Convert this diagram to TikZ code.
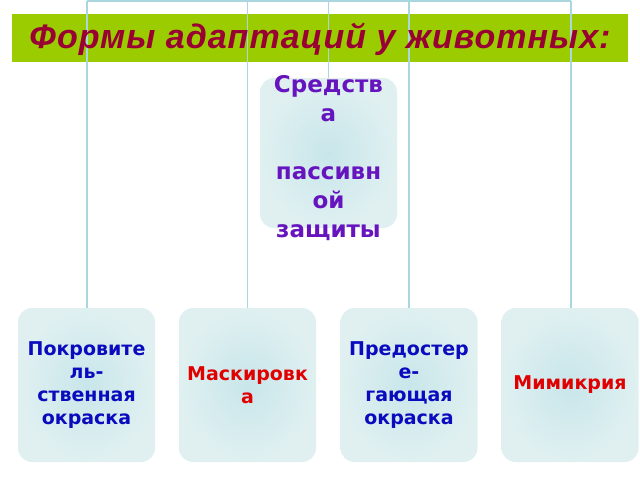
\documentclass[tikz,border=0pt]{standalone}
\usepackage{fontspec}
\setmainfont{DejaVu Sans}
\newfontfamily\titlefont[LetterSpace=3]{Liberation Sans}
\definecolor{barGreen}{RGB}{154,204,0}
\definecolor{titleRed}{RGB}{153,0,51}
\definecolor{lineBlue}{RGB}{170,214,224}
\definecolor{boxIn}{RGB}{200,230,234}
\definecolor{boxOut}{RGB}{224,240,241}
\definecolor{rootPurple}{RGB}{102,20,190}
\definecolor{txtBlue}{RGB}{10,10,190}
\definecolor{txtRed}{RGB}{225,0,0}
\tikzset{
  titlebar/.style={fill=barGreen, minimum width=616pt, minimum height=48pt, inner sep=0pt},
  boxshape/.style={rounded corners=14pt, inner color=boxIn, outer color=boxOut, minimum width=137pt, inner sep=0pt},
  conn/.style={draw=lineBlue, line width=1.6pt},
  roottext/.style={align=center, text=rootPurple, font=\fontsize{23}{29}\selectfont\bfseries},
  leaftext/.style={align=center, font=\fontsize{19}{23}\selectfont\bfseries},
}
\begin{document}
\begin{tikzpicture}[x=1pt,y=-1pt]
\useasboundingbox (0,0) rectangle (640,480);
\fill[white] (0,0) rectangle (640,480);
\node[titlebar] (title) at (320,37.5) {};
% boxes
\node[boxshape, minimum height=150pt] (root) at (328.5,153) {};
\node[boxshape, minimum height=154pt] (b1) at (86.5,385) {};
\node[boxshape, minimum height=154pt] (b2) at (247.5,385) {};
\node[boxshape, minimum height=154pt] (b3) at (409,385) {};
\node[boxshape, minimum height=154pt] (b4) at (570,385) {};
% connectors
\coordinate (top1) at (87,1);
\coordinate (top4) at (571,1);
\draw[conn] (top1) -- (top4);
\draw[conn] (top1) -- (b1.north -| top1);
\draw[conn] (b2.north |- top1) -- (b2.north);
\draw[conn] (b3.north |- top1) -- (b3.north);
\draw[conn] (top4) -- (b4.north -| top4);
\draw[conn] (root.north |- top1) -- (root.north);
% title text
\node[text=titleRed, font=\titlefont\fontsize{34}{38}\selectfont\bfseries\itshape] (titleT) at (320,39) {Формы адаптаций у животных:};
% texts
\node[roottext] (rootT) at (328.5,158) {Средств\\а\\\strut\\пассивн\\ой\\защиты};
\node[leaftext, text=txtBlue] (t1) at (b1.center) {Покровите\\ль-\\ственная\\окраска};
\node[leaftext, text=txtRed] (t2) at (b2.center) {Маскировк\\а};
\node[leaftext, text=txtBlue] (t3) at (b3.center) {Предостер\\е-\\гающая\\окраска};
\node[leaftext, text=txtRed] (t4) at (b4.center) {Мимикрия};
\end{tikzpicture}
\end{document}
